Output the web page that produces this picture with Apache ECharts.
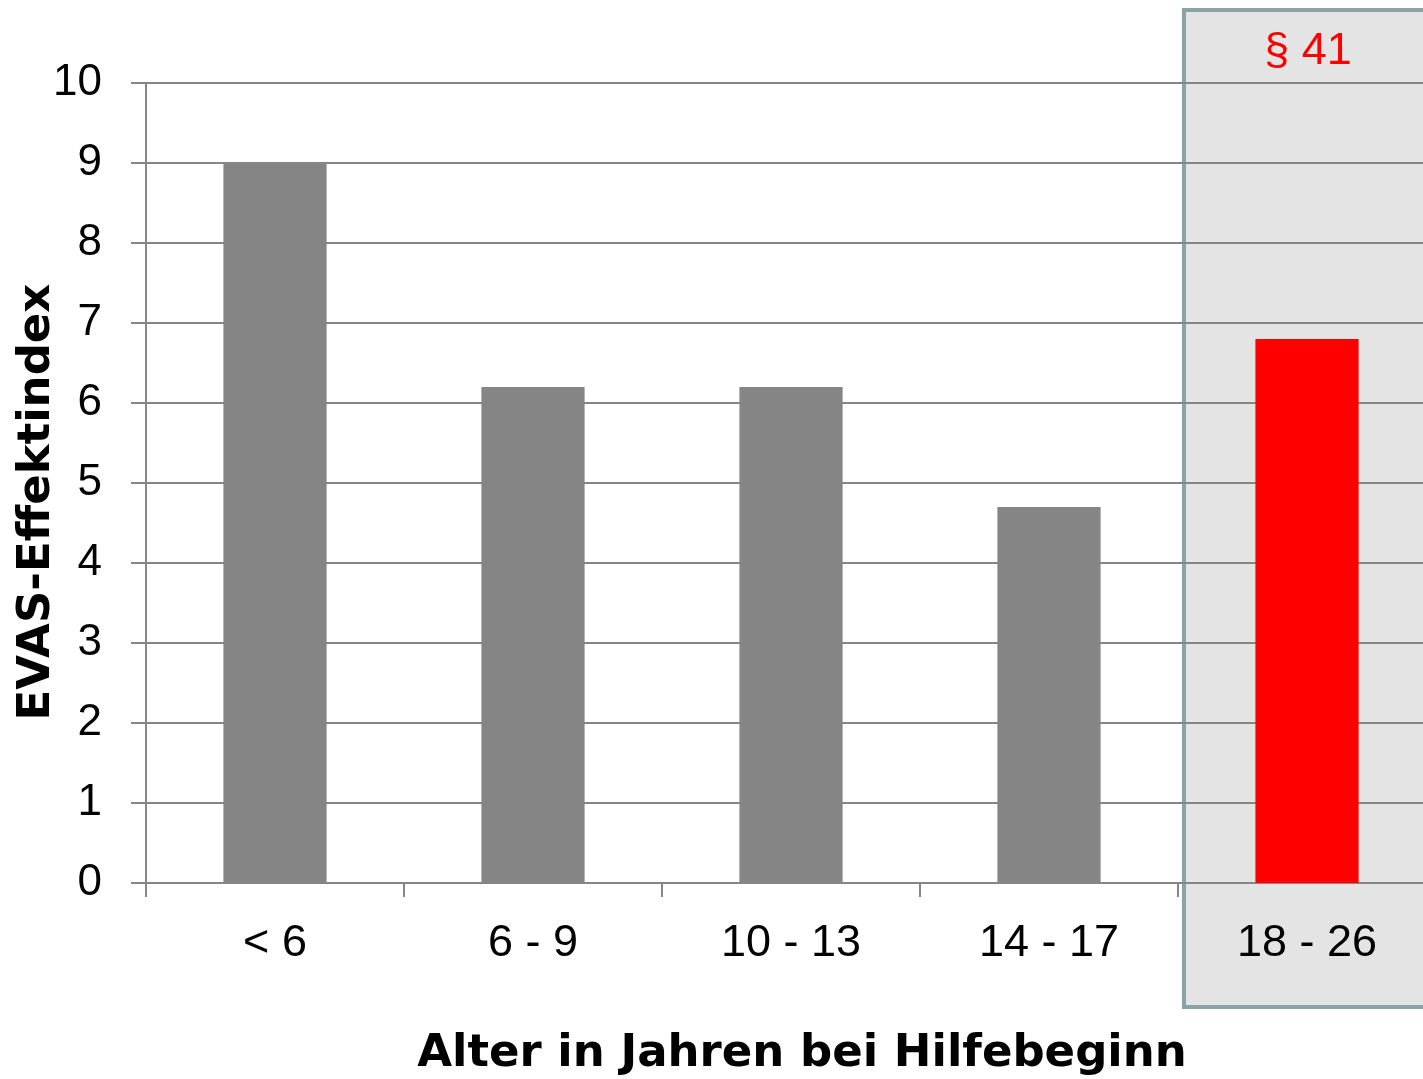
<!DOCTYPE html>
<html><head><meta charset="utf-8">
<script src="https://cdn.jsdelivr.net/npm/echarts@6/dist/echarts.min.js"></script>
<style>html,body{margin:0;padding:0;background:#fff}#c{width:1423px;height:1079px}</style>
</head><body><div id="c"></div>
<script>
const categories = ['< 6', '6 - 9', '10 - 13', '14 - 17', '18 - 26'];
const values = [9, 6.2, 6.2, 4.7, 6.8];
const barColors = ['#858585', '#858585', '#858585', '#858585', '#FF0000'];
const yTicks = { min: 0, max: 10, interval: 1 };
const highlightLabel = '§ 41';

const chart = echarts.init(document.getElementById('c'), null, { renderer: 'canvas' });
const font = 'Liberation Sans';
const titleFont = 'DejaVu Sans';
chart.setOption({
  animation: false,
  backgroundColor: '#fff',
  grid: { left: 146, top: 83, width: 1290, height: 800, containLabel: false, outerBoundsMode: 'none' },
  graphic: [
    { type: 'rect', z: -10, silent: true,
      shape: { x: 1184, y: 10, width: 260, height: 997 },
      style: { fill: '#E4E4E4', stroke: '#8AA3A5', lineWidth: 4 } },
    { type: 'text', z: 10, x: 1308, y: 29,
      style: { text: highlightLabel, fill: '#FF0000', font: '45px "Liberation Sans"', textAlign: 'center', textVerticalAlign: 'top' } }
  ],
  xAxis: {
    type: 'category', data: categories,
    axisLine: { lineStyle: { color: '#868686', width: 2 } },
    axisTick: { show: true, length: 14, lineStyle: { color: '#868686', width: 2 } },
    axisLabel: { color: '#000', fontFamily: font, fontSize: 45, margin: 38 },
    name: 'Alter in Jahren bei Hilfebeginn', nameLocation: 'middle', nameGap: 149, nameMoveOverlap: false,
    nameTextStyle: { color: '#000', fontFamily: titleFont, fontWeight: 'bold', fontSize: 45, padding: [0, 0, 0, 22] }
  },
  yAxis: {
    type: 'value', min: yTicks.min, max: yTicks.max, interval: yTicks.interval,
    axisLine: { show: true, lineStyle: { color: '#868686', width: 2 } },
    axisTick: { show: true, length: 15, lineStyle: { color: '#868686', width: 2 } },
    splitLine: { show: true, lineStyle: { color: '#868686', width: 2 } },
    axisLabel: { color: '#000', fontFamily: font, fontSize: 44, margin: 44 },
    name: 'EVAS-Effektindex', nameLocation: 'middle', nameGap: 86, nameRotate: 90, nameMoveOverlap: false,
    nameTextStyle: { color: '#000', fontFamily: titleFont, fontWeight: 'bold', fontSize: 45, padding: [0, 38, 0, 0] }
  },
  series: [{
    type: 'bar', barWidth: '40%',
    data: values.map((v, i) => ({ value: v, itemStyle: { color: barColors[i] } }))
  }]
});
</script></body></html>
